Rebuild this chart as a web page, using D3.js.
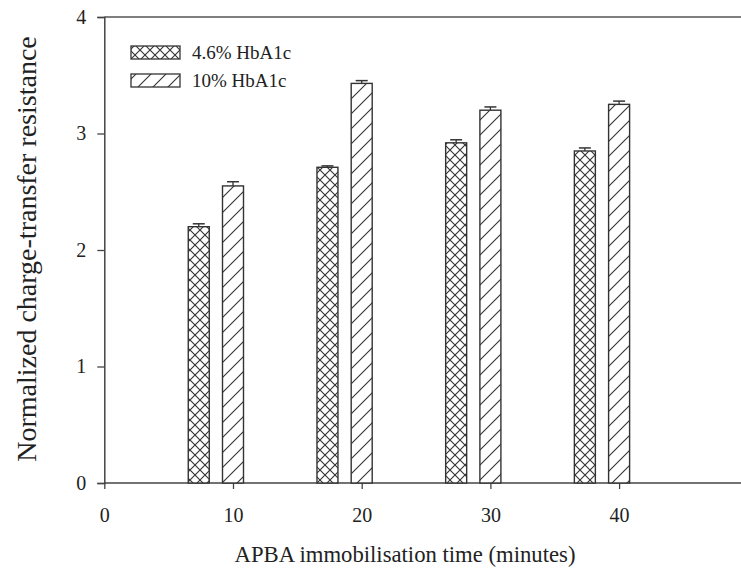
<!DOCTYPE html>
<html><head><meta charset="utf-8">
<script src="https://cdn.jsdelivr.net/npm/d3@7"></script>
<style>html,body{margin:0;padding:0;background:#fff;}svg{display:block;}</style>
</head><body>
<svg id="chart" width="741" height="575"></svg>
<script>
const times = [10, 20, 30, 40];
const seriesNames = ["4.6% HbA1c", "10% HbA1c"];
const low = [2.20, 2.71, 2.92, 2.85];
const lowErr = [0.025, 0.012, 0.026, 0.026];
const high = [2.55, 3.43, 3.20, 3.25];
const highErr = [0.036, 0.024, 0.028, 0.028];
const xTicks = [0, 10, 20, 30, 40];
const yTicks = [0, 1, 2, 3, 4];
const xOffsets = [-2.66, 0];

const svg = d3.select("#chart");
const font = "'Liberation Serif', 'Times New Roman', serif";
const x = d3.scaleLinear().domain([0, 10]).range([104.3, 233]);
const y = d3.scaleLinear().domain([0, 4]).range([483, 17]);
const barW = 21;
const ink = "#333";

const defs = svg.append("defs");
const p1 = defs.append("pattern").attr("id", "cross").attr("patternUnits", "userSpaceOnUse")
  .attr("width", 10).attr("height", 10);
p1.append("rect").attr("width", 10).attr("height", 10).attr("fill", "#fff");
p1.append("path").attr("d", "M0,0L10,10M10,0L0,10M-1,9L1,11M9,-1L11,1").attr("stroke", ink).attr("stroke-width", 1.1);
const p2 = defs.append("pattern").attr("id", "diag").attr("patternUnits", "userSpaceOnUse")
  .attr("width", 15).attr("height", 15);
p2.append("rect").attr("width", 15).attr("height", 15).attr("fill", "#fff");
p2.append("path").attr("d", "M0,15L15,0M-3,3L3,-3M12,18L18,12").attr("stroke", ink).attr("stroke-width", 1.1);

// frame top line and axes
svg.append("line").attr("x1", x(0)).attr("x2", 741).attr("y1", y(4)).attr("y2", y(4))
  .attr("stroke", "#555").attr("stroke-width", 1.5);

const xAxis = d3.axisBottom(x).tickValues(xTicks).tickSize(6).tickPadding(19).tickFormat(d3.format("d"));
const gx = svg.append("g").attr("transform", `translate(0,${y(0)})`).call(xAxis);
gx.select(".domain").attr("d", `M${x(0)},0H745`);
const yAxis = d3.axisLeft(y).tickValues(yTicks).tickSize(7).tickPadding(11).tickFormat(d3.format("d"));
const gy = svg.append("g").attr("transform", `translate(${x(0)},0)`).call(yAxis);
[gx, gy].forEach(g => {
  g.select(".domain").attr("stroke", "#444").attr("stroke-width", 1.5);
  g.selectAll(".tick line").attr("stroke", "#444").attr("stroke-width", 1.3);
  g.selectAll("text").attr("font-family", font).attr("font-size", 20).attr("fill", "#222");
});

const series = [
  {vals: low, errs: lowErr, fill: "url(#cross)"},
  {vals: high, errs: highErr, fill: "url(#diag)"}
];
series.forEach((s, si) => {
  const g = svg.append("g");
  times.forEach((t, i) => {
    const cx = x(t + xOffsets[si]);
    const top = y(s.vals[i]);
    const et = y(s.vals[i] + s.errs[i]);
    g.append("line").attr("x1", cx).attr("x2", cx).attr("y1", top).attr("y2", et)
      .attr("stroke", ink).attr("stroke-width", 1.3);
    g.append("line").attr("x1", cx - 6).attr("x2", cx + 6).attr("y1", et).attr("y2", et)
      .attr("stroke", ink).attr("stroke-width", 1.5);
    g.append("rect").attr("x", cx - barW / 2).attr("y", top)
      .attr("width", barW).attr("height", y(0) - top)
      .attr("fill", s.fill).attr("stroke", ink).attr("stroke-width", 1.4);
  });
});

// legend
const leg = svg.append("g");
seriesNames.forEach((n, i) => {
  const ly = 46 + i * 28;
  leg.append("rect").attr("x", 131).attr("y", ly).attr("width", 49).attr("height", 13)
    .attr("fill", series[i].fill).attr("stroke", ink).attr("stroke-width", 1.3);
  leg.append("text").attr("x", 192).attr("y", ly + 13).text(n)
    .attr("font-family", font).attr("font-size", 19).attr("fill", "#222");
});

svg.append("text").attr("x", 405).attr("y", 562).attr("text-anchor", "middle")
  .attr("font-family", font).attr("font-size", 22.7).attr("fill", "#222")
  .text("APBA immobilisation time (minutes)");
svg.append("text").attr("transform", "translate(36,249) rotate(-90)").attr("text-anchor", "middle")
  .attr("font-family", font).attr("font-size", 28).attr("fill", "#222")
  .text("Normalized charge-transfer resistance");
</script>
</body></html>
